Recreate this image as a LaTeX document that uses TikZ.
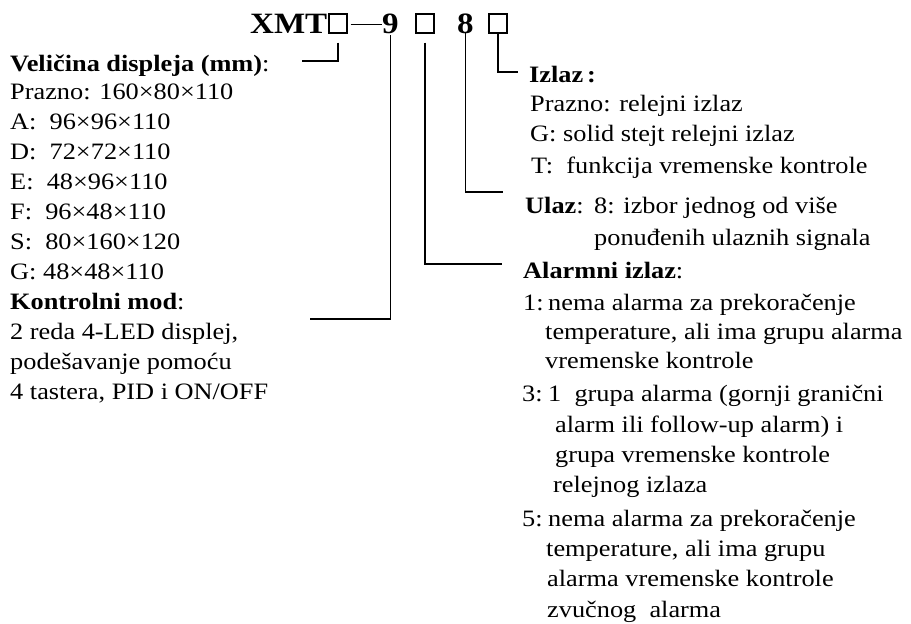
\documentclass[tikz,border=0pt]{standalone}
\usepackage{fontspec}
\setmainfont{Liberation Serif}[FakeStretch=1.12]
\begin{document}
\begin{tikzpicture}[x=1pt,y=-1pt]
\tikzset{
  txt/.style={anchor=base west, inner sep=0pt, font=\fontsize{23.5}{28}\selectfont},
  ttl/.style={anchor=base west, inner sep=0pt, font=\fontsize{29.5}{34}\selectfont\bfseries},
  tbox/.style={draw, line width=1.3pt, minimum width=18pt, minimum height=19pt, inner sep=0pt},
  conn/.style={line width=1.2pt},
}
\useasboundingbox[fill=white] (0,0) rectangle (911,624);
% title
\node[ttl] (xmt) at (250,33) {XMT};
\node[tbox] (b1) at (338,23.5) {};
\node[ttl] (n9) at (382,33) {9};
\node[tbox] (b2) at (425,23.5) {};
\node[ttl] (n8) at (457,33) {8};
\node[tbox] (b3) at (498,23.5) {};
\draw[conn] ([xshift=3pt,yshift=-1pt]b1.east) -- ([yshift=-1pt]b1.east -| n9.west);
% left column
\node[txt] (vel) at (10,71) {\textbf{Veličina displeja (mm)}:};
\node[txt] (l1) at (10,99) {Prazno: 160×80×110};
\node[txt] (l2) at (10,129) {A:\ \ 96×96×110};
\node[txt] (l3) at (10,159) {D:\ \ 72×72×110};
\node[txt] (l4) at (10,189) {E:\ \ 48×96×110};
\node[txt] (l5) at (10,219) {F:\ \ 96×48×110};
\node[txt] (l6) at (10,249) {S:\ \ 80×160×120};
\node[txt] (l7) at (10,279) {G: 48×48×110};
\node[txt] (kon) at (10,309) {\textbf{Kontrolni mod}:};
\node[txt] (k1) at (10,339) {2 reda 4-LED displej,};
\node[txt] (k2) at (10,369) {podešavanje pomoću};
\node[txt] (k3) at (10,399) {4 tastera, PID i ON/OFF};
% right column: output
\node[txt] (izl) at (529,82) {\textbf{Izlaz\,:}};
\node[txt] (i1) at (530,111) {Prazno: relejni izlaz};
\node[txt] (i2) at (530,141) {G: solid stejt relejni izlaz};
\node[txt] (i3) at (531,173) {T:\ \ funkcija vremenske kontrole};
% input
\node[txt] (ula) at (525,213) {\textbf{Ulaz}:};
\node[txt] (u1) at (594,213) {8: izbor jednog od više};
\node[txt] (u2) at (594,245) {ponuđenih ulaznih signala};
% alarm
\node[txt] (ala) at (523,278) {\textbf{Alarmni izlaz}:};
\node[txt] (a1n) at (523,310) {1:};
\node[txt] (a1a) at (548,310) {nema alarma za prekoračenje};
\node[txt] (a1b) at (545,339) {temperature, ali ima grupu alarma};
\node[txt] (a1c) at (545,368) {vremenske kontrole};
\node[txt] (a3n) at (522,401) {3:};
\node[txt] (a3a) at (548,401) {1\ \ grupa alarma (gornji granični};
\node[txt] (a3b) at (555,432) {alarm ili follow-up alarm) i};
\node[txt] (a3c) at (555,462) {grupa vremenske kontrole};
\node[txt] (a3d) at (553,492) {relejnog izlaza};
\node[txt] (a5n) at (522,526) {5:};
\node[txt] (a5a) at (548,526) {nema alarma za prekoračenje};
\node[txt] (a5b) at (546,556) {temperature, ali ima grupu};
\node[txt] (a5c) at (547,586) {alarma vremenske kontrole};
\node[txt] (a5d) at (547,617) {zvučnog\ \ alarma};
% connector ends
\coordinate (e1) at (302,61);
\coordinate (e9) at (310,319);
\coordinate (eb2) at (502,264);
\coordinate (e8) at (503,192);
\coordinate (eb3) at (518,72);
\draw[conn] ([yshift=-9pt]b1.south) |- (e1);
\draw[conn] ([yshift=-2pt]n9.south) |- (e9);
\draw[conn] ([yshift=-9pt]b2.south) |- (eb2);
\draw[conn] (n8.south) |- (e8);
\draw[conn] (b3.south) |- (eb3);
\end{tikzpicture}
\end{document}
